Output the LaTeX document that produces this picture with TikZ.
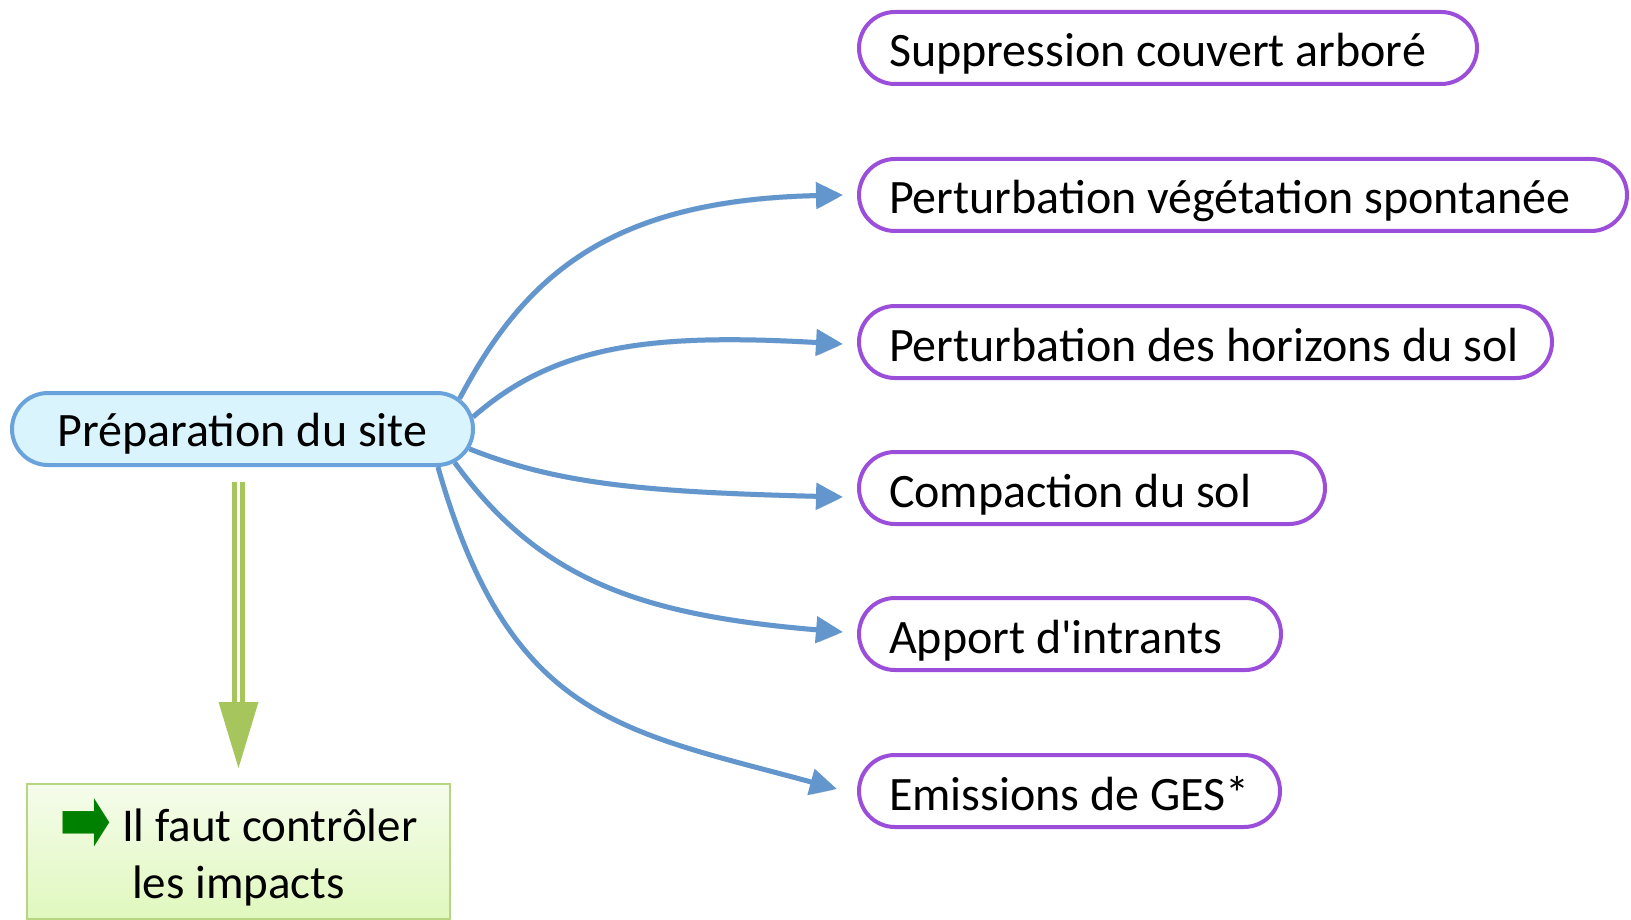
\documentclass[tikz,border=0pt]{standalone}
\usepackage{fontspec}
\setmainfont{Carlito}
\newfontfamily\calib{Carlito}
\newfontfamily\dejavu{DejaVu Sans}
\usetikzlibrary{arrows.meta,shapes.misc,calc}
\definecolor{lineblue}{RGB}{98,150,205}
\definecolor{mainborder}{RGB}{106,163,219}
\definecolor{mainfill}{RGB}{218,244,253}
\definecolor{impactpurple}{RGB}{155,78,218}
\definecolor{gborder}{RGB}{184,214,130}
\definecolor{gtop}{RGB}{245,252,235}
\definecolor{gbottom}{RGB}{224,248,190}
\definecolor{garrow}{RGB}{166,197,92}
\definecolor{glyphgreen}{RGB}{0,128,0}
\newcommand{\lefttext}[2]{\makebox[#1][l]{#2}}
\tikzset{
  mainbox/.style={rounded rectangle, draw=mainborder, fill=mainfill, line width=4pt,
    minimum width=461pt, minimum height=72pt, inner sep=0pt, text height=35pt, text depth=0pt},
  impact/.style={draw=impactpurple, line width=4pt, rounded corners=36pt, minimum height=72pt,
    inner xsep=30pt, inner ysep=0pt, anchor=west, text height=38pt, text depth=0pt},
  conclusion/.style={draw=gborder, line width=2pt, top color=gtop, bottom color=gbottom,
    minimum width=423pt, minimum height=135pt, inner sep=0pt, align=center},
  link/.style={draw=lineblue, line width=5pt, -{Triangle[length=27pt,width=26pt]},
    preaction={draw=black!16, transform canvas={xshift=1pt,yshift=-2.5pt}}},
  gline/.style={draw=garrow, line width=5pt, double=white, double distance=3.3pt},
}
\begin{document}
\begin{tikzpicture}[x=1pt,y=-1pt,font=\calib\fontsize{48}{56.7}\selectfont]
\useasboundingbox (0,0) rectangle (1631,920);

\node[mainbox] (main) at (242.5,429) {Préparation du site};

\node[impact] (b1) at (857,48)  {\lefttext{558pt}{Suppression couvert arboré}};
\node[impact] (b2) at (857,195) {\lefttext{708pt}{Perturbation végétation spontanée}};
\node[impact] (b3) at (857,342) {\lefttext{633pt}{Perturbation des horizons du sol}};
\node[impact] (b4) at (857,488) {\lefttext{406pt}{Compaction du sol}};
\node[impact] (b5) at (857,634) {\lefttext{362pt}{Apport d'intrants}};
\node[impact] (b6) at (857,791) {\lefttext{361pt}{Emissions de GES*}};

\node[conclusion, font=\calib\fontsize{47}{56.7}\selectfont] (green) at (238.5,851.5)
  {\rule{0pt}{47pt}{\dejavu\color{glyphgreen}\raisebox{-12pt}{\resizebox{52pt}{55pt}{➡}}} Il faut contrôler\\les impacts\rule[-10pt]{0pt}{10pt}};

\coordinate (t2) at ($(b2.west)+(-14,0)$);
\coordinate (t3) at ($(b3.west)+(-14,2)$);
\coordinate (t4) at ($(b4.west)+(-14,9)$);
\coordinate (t5) at ($(b5.west)+(-14,-2)$);
\coordinate (t6) at ($(b6.west)+(-20,-2)$);

\draw[link] (main.8) .. controls (525,275) and (610,200) .. (t2);
\draw[link] (main.3) .. controls (555,345) and (650,333) .. (t3);
\draw[link] (main.-5) .. controls (560,485) and (650,492) .. (t4);
\draw[link] (main.-9) .. controls (540,580) and (640,615) .. (t5);
\draw[link] (main.-11.5) .. controls (510,720) and (620,730) .. (t6);

\coordinate (gstart) at ($(main.south -| green.north)+(0,15)$);
\coordinate (gtip) at ($(green.north)+(0,-15)$);
\coordinate (gbase) at ($(gtip)+(0,-66)$);
\draw[gline] (gstart) -- (gbase);
\fill[garrow] (gtip) -- ($(gbase)+(-20,0)$) -- ($(gbase)+(20,0)$) -- cycle;
\end{tikzpicture}
\end{document}
